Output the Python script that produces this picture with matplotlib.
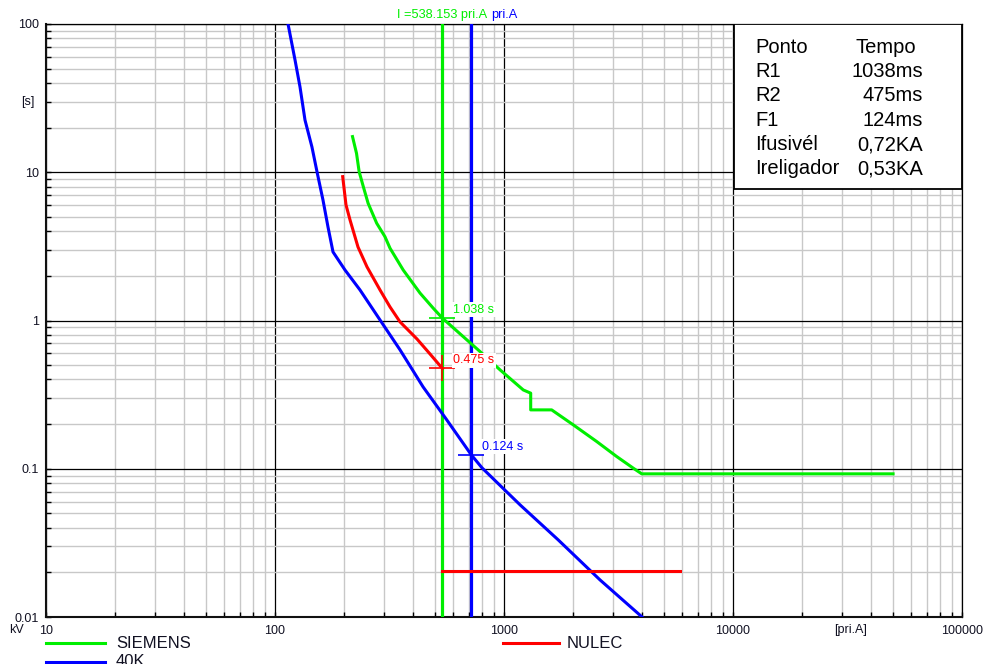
import matplotlib
matplotlib.use("Agg")
import matplotlib.pyplot as plt
from matplotlib.lines import Line2D
from matplotlib.patches import Rectangle
from matplotlib.ticker import LogLocator, FixedLocator, FixedFormatter, NullFormatter

plt.rcParams['font.family'] = ['Liberation Sans', 'DejaVu Sans']

# ---- curve data (current in primary A, time in s) ----
siemens_i = [218, 227, 233, 243, 255, 278, 302, 318, 363, 430, 491, 538.153,
             786, 962, 1214, 1308, 1308, 1615, 2007, 2540, 3105, 3669, 3994, 50000]
siemens_t = [17.4, 13.4, 10.1, 8.0, 6.18, 4.53, 3.68, 3.07, 2.19, 1.53, 1.21, 1.038,
             0.617, 0.464, 0.340, 0.3235, 0.2495, 0.2495, 0.1977, 0.1526, 0.1209,
             0.1009, 0.0924, 0.0924]

fuse_i = [114, 122.3, 128.6, 135.2, 145, 152.6, 162, 170.4, 179.2, 202.2, 235,
          287.4, 351.5, 443, 562, 720, 801.6, 1175, 1722, 2625, 4008]
fuse_t = [100, 57.2, 37.6, 22.5, 14.8, 10.05, 6.5, 4.27, 2.90, 2.19, 1.608,
          1.009, 0.634, 0.357, 0.214, 0.124, 0.1014, 0.0571, 0.0332, 0.0178, 0.01]

nulec_i = [197.5, 204.2, 212.6, 230.4, 252.2, 287.4, 317.8, 351.5, 417, 475, 538.153]
nulec_t = [9.34, 6.02, 4.77, 3.13, 2.30, 1.608, 1.235, 0.979, 0.75, 0.595, 0.475]

nulec_inst_i = [538.153, 5870]
nulec_inst_t = [0.0203, 0.0203]

# cursor currents and the times read on each curve
i_recloser = 538.153
i_fuse = 720.0
t_r1 = 1.038
t_r2 = 0.475
t_f1 = 0.124

x_ticks = [10, 100, 1000, 10000, 100000]
x_tick_labels = ["10", "100", "1000", "10000", "100000"]
y_ticks = [0.01, 0.1, 1, 10, 100]
y_tick_labels = ["0.01", "0.1", "1", "10", "100"]

box_names = ["R1", "R2", "F1", "Ifusivél", "Ireligador"]
box_currents = ["0,72KA", "0,53KA"]

GREEN = "#00ee00"
BLUE = "#0000ff"
RED = "#ff0000"
TXT = "#111122"

W, H = 986, 664
fig = plt.figure(figsize=(W / 100, H / 100), dpi=100)
ax = fig.add_axes([46 / W, 47 / H, 916 / W, 593 / H])
ax.set_xscale("log")
ax.set_yscale("log")
ax.set_xlim(10, 100000)
ax.set_ylim(0.01, 100)

# grid
ax.set_axisbelow(True)
ax.xaxis.set_minor_locator(LogLocator(base=10, subs=range(2, 10), numticks=20))
ax.yaxis.set_minor_locator(LogLocator(base=10, subs=range(2, 10), numticks=20))
ax.xaxis.set_minor_formatter(NullFormatter())
ax.yaxis.set_minor_formatter(NullFormatter())
ax.xaxis.set_major_locator(FixedLocator(x_ticks))
ax.xaxis.set_major_formatter(FixedFormatter(x_tick_labels))
ax.yaxis.set_major_locator(FixedLocator(y_ticks))
ax.yaxis.set_major_formatter(FixedFormatter(y_tick_labels))
ax.grid(which="minor", color="#c8c8c8", lw=1.0)
ax.grid(which="major", color="#000000", lw=0.9)
ax.tick_params(which="both", direction="in", color="black", width=1.0,
               labelsize=9, labelcolor=TXT)
ax.tick_params(which="minor", length=3.5)
ax.tick_params(which="major", length=3.5)
ax.tick_params(axis="y", pad=5)
ax.tick_params(axis="x", pad=6)
for s in ("left", "bottom"):
    ax.spines[s].set_linewidth(1.5)
    ax.spines[s].set_color("#111111")
for s in ("top", "right"):
    ax.spines[s].set_linewidth(0.9)
    ax.spines[s].set_color("#000000")

# vertical cursors
ax.axvline(i_recloser, color=GREEN, lw=2.3, zorder=3)
ax.axvline(i_fuse, color=BLUE, lw=2.3, zorder=3)

# curves
l_siemens, = ax.plot(siemens_i, siemens_t, color=GREEN, lw=2.2, zorder=4, label="SIEMENS")
l_fuse, = ax.plot(fuse_i, fuse_t, color=BLUE, lw=2.2, zorder=4, label="40K")
l_nulec, = ax.plot(nulec_i, nulec_t, color=RED, lw=2.2, zorder=4, label="NULEC")
ax.plot(nulec_inst_i, nulec_inst_t, color=RED, lw=2.2, zorder=4)

# crosshairs with read-out labels
for (ci, ct, col) in [(i_recloser, t_r1, GREEN), (i_recloser, t_r2, RED), (i_fuse, t_f1, BLUE)]:
    ax.plot([ci], [ct], marker="+", ms=19, mew=1.2, color=col, zorder=6)
    ax.annotate(f"{ct:.3f} s", xy=(ci, ct), xytext=(8, 6), textcoords="offset points",
                ha="left", va="center", fontsize=9, color=col, zorder=7,
                bbox=dict(boxstyle="square,pad=0.12", fc="white", ec="none"))

# cursor current labels above the plot
top_lbl = ax.annotate(f"I ={i_recloser:.3f} pri.A", xy=(i_recloser, 1),
                      xycoords=("data", "axes fraction"),
                      xytext=(0, 6.5), textcoords="offset points", ha="center", va="center",
                      fontsize=9.2, color=GREEN, zorder=9)
ax.annotate("pri.A", xy=(1, 0.5), xycoords=top_lbl, xytext=(3, 0),
            textcoords="offset points", ha="left", va="center",
            fontsize=9.2, color=BLUE, zorder=8)

# unit labels
ax.annotate("[s]", xy=(0, 30), xycoords=("axes fraction", "data"), xytext=(-13, 0),
            textcoords="offset points", ha="center", va="center", fontsize=9, color=TXT)
ax.annotate("[pri.A]", xy=(30000, 0), xycoords=("data", "axes fraction"), xytext=(6, -9.5),
            textcoords="offset points", ha="center", va="center", fontsize=9, color=TXT)
ax.annotate("kV", xy=(0, 0), xycoords="axes fraction", xytext=(-21, -9.5),
            textcoords="offset points", ha="center", va="center", fontsize=9, color=TXT)

# summary table
box = Rectangle((0.751, 0.7218), 0.2485, 0.2782, transform=ax.transAxes,
                fc="white", ec="black", lw=1.3, zorder=10)
ax.add_patch(box)
times_ms = [f"{round(t * 1000)}ms" for t in (t_r1, t_r2, t_f1)]
rows_y = [0.9612, 0.9191, 0.8786, 0.8381, 0.7960, 0.7555]
fs_box = 14.5
ax.text(0.774, rows_y[0], "Ponto", transform=ax.transAxes, fontsize=fs_box,
        va="center", ha="left", color="black", zorder=11)
ax.text(0.8832, rows_y[0], "Tempo", transform=ax.transAxes, fontsize=fs_box,
        va="center", ha="left", color="black", zorder=11)
values = times_ms + box_currents
for k, (name, val) in enumerate(zip(box_names, values)):
    y = rows_y[k + 1]
    ax.text(0.774, y, name, transform=ax.transAxes, fontsize=fs_box,
            va="center", ha="left", color="black", zorder=11)
    if val.endswith("ms"):
        ax.text(0.9574, y, val, transform=ax.transAxes, fontsize=fs_box,
                va="center", ha="right", color="black", zorder=11)
    else:
        ax.text(0.8855, y, val, transform=ax.transAxes, fontsize=fs_box,
                va="center", ha="left", color="black", zorder=11)

# legend below the plot
def fx(px):
    return px / W

def fy(py):
    return 1 - py / H

legend_items = [(l_siemens, 46, 105, 116, 643),
                (l_nulec, 503, 559, 567, 643),
                (l_fuse, 46, 105, 116, 662)]
for line, x0, x1, xt, y in legend_items:
    fig.add_artist(Line2D([fx(x0), fx(x1)], [fy(y), fy(y)], transform=fig.transFigure,
                          color=line.get_color(), lw=2.2))
    fig.text(fx(xt), fy(y), line.get_label(), fontsize=12, color=TXT,
             ha="left", va="center")

fig.savefig("out.png", dpi=100)
